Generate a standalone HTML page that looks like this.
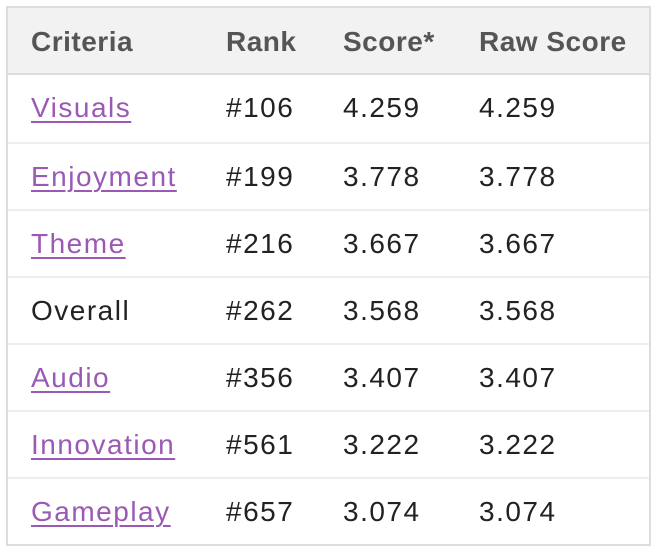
<!DOCTYPE html>
<html><head><meta charset="utf-8"><style>
body{margin:0;background:#fff;width:656px;height:549px;overflow:hidden;font-family:"Liberation Sans",sans-serif;}
.t{position:absolute;left:6px;top:6px;width:641px;height:536px;border:2px solid #ddd;}
.row{position:absolute;left:0;width:641px;height:67px;border-top:2px solid #eee;box-sizing:border-box;}
.hdr{position:absolute;left:0;top:0;width:641px;height:67px;background:#f2f2f2;border-bottom:2px solid #ddd;box-sizing:border-box;}
.c{position:absolute;top:0;line-height:66px;font-size:28px;letter-spacing:1.5px;color:#222;white-space:nowrap;}
.hdr .c{font-weight:bold;color:#555;letter-spacing:0.5px;line-height:68px;}
a{color:#9b59b6;text-decoration:underline;text-decoration-thickness:2px;text-underline-offset:4px;}
</style></head><body>
<div class="t">
<div class="hdr">
<span class="c" style="left:23px">Criteria</span>
<span class="c" style="left:218px">Rank</span>
<span class="c" style="left:335px">Score*</span>
<span class="c" style="left:471px">Raw Score</span>
</div>
<div id="rows"></div>
</div>
<script>
const criteria=["Visuals","Enjoyment","Theme","Overall","Audio","Innovation","Gameplay"];
const ranks=["#106","#199","#216","#262","#356","#561","#657"];
const scores=["4.259","3.778","3.667","3.568","3.407","3.222","3.074"];
const rawScores=["4.259","3.778","3.667","3.568","3.407","3.222","3.074"];
const wrap=document.getElementById('rows');
criteria.forEach((c,i)=>{
 const r=document.createElement('div');r.className='row';r.style.top=(67+i*67)+'px';
 if(i===0) r.style.borderTop='none';
 
 
 const s1=document.createElement('span');s1.className='c';s1.style.left='23px';
 
 
 if(c==='Overall'){s1.textContent=c;}else{
  const a=document.createElement('a');a.href='#';a.textContent=c;
  
  
  s1.appendChild(a);}
 r.appendChild(s1);
 [[ranks[i],218,'rank-cell'],[scores[i],335,'score-cell'],[rawScores[i],471,'raw-score-cell']].forEach(([v,x,n])=>{
  const s=document.createElement('span');s.className='c';s.style.left=x+'px';s.textContent=v;
  
  
  r.appendChild(s);});
 wrap.appendChild(r);
});
</script>
</body></html>
